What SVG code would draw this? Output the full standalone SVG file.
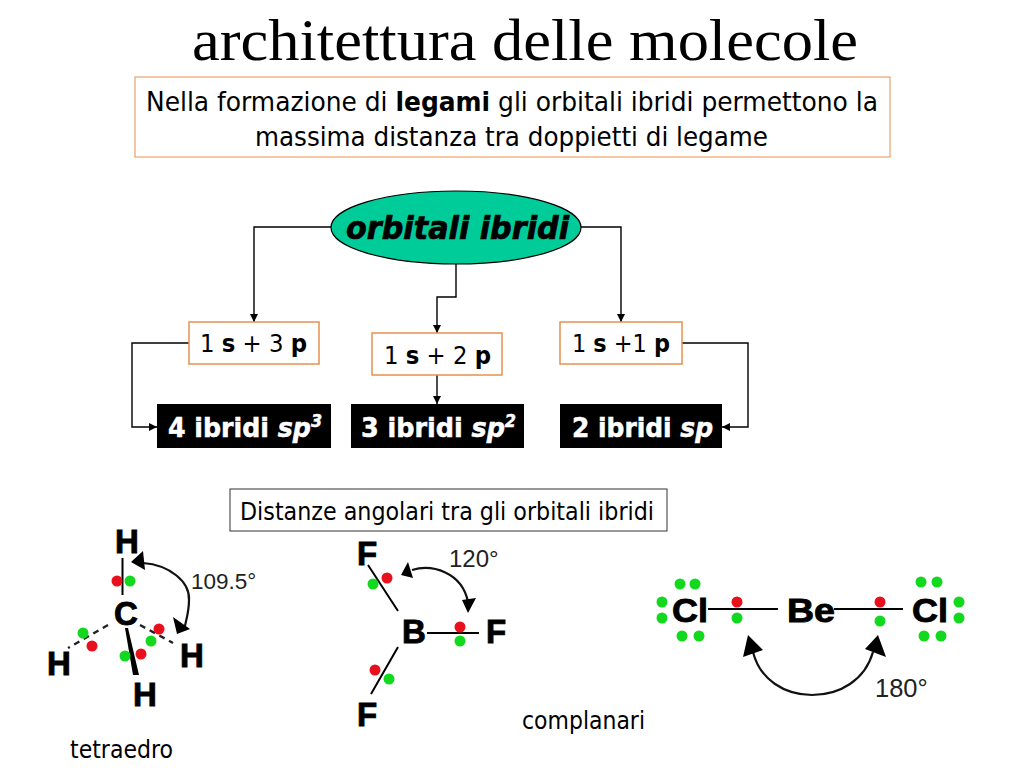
<svg xmlns="http://www.w3.org/2000/svg" width="1024" height="768" viewBox="0 0 1024 768">
<style>
text{font-family:"DejaVu Sans","Noto Sans",sans-serif;font-stretch:condensed;fill:#000}
.title{font-family:"Liberation Serif",serif;font-stretch:normal;font-size:60px}
.t{font-size:27px}
.lab{font-size:25px}
.blk{font-size:27px;font-weight:bold;fill:#fff;stroke:#fff;stroke-width:.5px}
.chem{font-family:"Liberation Sans",sans-serif;font-stretch:normal;font-weight:bold;font-size:33px;text-anchor:middle;stroke:#000;stroke-width:.9px}
.deg{font-family:"Liberation Sans",sans-serif;font-stretch:normal;fill:#222}
.box{fill:#fff;stroke:#e8904e;stroke-width:1.5}
.k{fill:#000;stroke:none}
.con{fill:none;stroke:#000;stroke-width:1.4}
.bond{stroke:#000;stroke-width:2;fill:none}
.dash{stroke:#222;stroke-width:2.4;fill:none;stroke-dasharray:6 5}
.arc{stroke:#111;stroke-width:2.2;fill:none}
.r{fill:#e8101c}.g{fill:#12d81e}
circle{r:5.5px}
</style>
<defs>
<marker id="ah" viewBox="0 0 10 10" refX="10" refY="5" markerWidth="8" markerHeight="8" markerUnits="userSpaceOnUse" orient="auto"><path d="M0 0L10 5L0 10Z" fill="#000"/></marker>
</defs>
<text class="title" x="192" y="60" textLength="666" lengthAdjust="spacingAndGlyphs">architettura delle molecole</text>
<g id="intro">
<rect class="box" x="135" y="77" width="755" height="80" style="stroke-width:1"/>
<text class="t" x="146" y="111" textLength="732" lengthAdjust="spacingAndGlyphs">Nella formazione di <tspan font-weight="bold">legami</tspan> gli orbitali ibridi permettono la</text>
<text class="t" x="255" y="146" textLength="513" lengthAdjust="spacingAndGlyphs">massima distanza tra doppietti di legame</text>
</g>
<g id="connectors">
<path class="con" d="M331 227H254V322" marker-end="url(#ah)"/>
<path class="con" d="M456 264V297H437V333" marker-end="url(#ah)"/>
<path class="con" d="M581 227H621V322" marker-end="url(#ah)"/>
<path class="con" d="M189 343H132V427H157" marker-end="url(#ah)"/>
<path class="con" d="M437 375V404" marker-end="url(#ah)"/>
<path class="con" d="M682 343H748V427H722" marker-end="url(#ah)"/>
</g>
<g id="orbitali">
<ellipse cx="456" cy="227.500" rx="125" ry="36.500" fill="#00cc99" stroke="#000" stroke-width="1.2"/>
<text x="346" y="239" font-size="32" font-weight="bold" font-style="italic" stroke="#000" stroke-width=".7" textLength="223" lengthAdjust="spacingAndGlyphs">orbitali ibridi</text>
</g>
<g id="s3p"><rect class="box" x="189" y="322" width="130" height="42"/>
<text class="lab" x="200" y="352" textLength="107" lengthAdjust="spacingAndGlyphs">1 <tspan font-weight="bold">s</tspan> + 3 <tspan font-weight="bold">p</tspan></text></g>
<g id="s2p"><rect class="box" x="372" y="333" width="130" height="42"/>
<text class="lab" x="384" y="364" textLength="107" lengthAdjust="spacingAndGlyphs">1 <tspan font-weight="bold">s</tspan> + 2 <tspan font-weight="bold">p</tspan></text></g>
<g id="s1p"><rect class="box" x="560" y="322" width="122" height="42"/>
<text class="lab" x="572" y="352" textLength="98" lengthAdjust="spacingAndGlyphs">1 <tspan font-weight="bold">s</tspan> +1 <tspan font-weight="bold">p</tspan></text></g>
<g id="sp3"><rect class="k" x="157" y="404" width="174" height="44"/>
<text class="blk" x="168" y="437" textLength="154" lengthAdjust="spacingAndGlyphs">4 ibridi <tspan font-style="italic">sp<tspan font-size="17" dy="-10">3</tspan></tspan></text></g>
<g id="sp2"><rect class="k" x="351" y="404" width="173" height="44"/>
<text class="blk" x="361" y="437" textLength="155" lengthAdjust="spacingAndGlyphs">3 ibridi <tspan font-style="italic">sp<tspan font-size="17" dy="-10">2</tspan></tspan></text></g>
<g id="sp"><rect class="k" x="560" y="404" width="162" height="44"/>
<text class="blk" x="572" y="437" textLength="141" lengthAdjust="spacingAndGlyphs">2 ibridi <tspan font-style="italic">sp</tspan></text></g>
<g id="distanze"><rect x="230" y="489" width="437" height="42" fill="#fff" stroke="#333" stroke-width="1"/>
<text x="240" y="520" font-size="25" textLength="414" lengthAdjust="spacingAndGlyphs">Distanze angolari tra gli orbitali ibridi</text></g>
<g id="ch4">
<text class="chem" x="127" y="553">H</text><text class="chem" x="126" y="625">C</text><text class="chem" x="59" y="675">H</text><text class="chem" x="192" y="667">H</text><text class="chem" x="145" y="706">H</text>
<path class="bond" d="M122.500 558V595"/>
<path class="dash" d="M108 625L68 648M140 625L173 643"/>
<path d="M125 628L128 628L139 675L133 675Z"/>
<g class="r"><circle cx="117" cy="581" r="5"/><circle cx="92" cy="646" r="5"/><circle cx="159" cy="629" r="5"/><circle cx="141" cy="654" r="5"/></g>
<g class="g"><circle cx="130" cy="581" r="5"/><circle cx="83" cy="633" r="5"/><circle cx="151" cy="641" r="5"/><circle cx="125" cy="656" r="5"/></g>
<path class="arc" d="M143 563C170 565 190 582 189 600C189 612 186 620 185 626"/>
<path d="M131 562L143 551L145 570Z M173 617L190 629L177 634Z"/>
<text class="deg" x="191" y="589" font-size="22.500">109.5°</text>
<text x="70" y="758" font-size="25" textLength="103" lengthAdjust="spacingAndGlyphs">tetraedro</text>
</g>
<g id="bf3">
<text class="chem" x="367" y="565">F</text><text class="chem" x="414" y="643">B</text><text class="chem" x="496" y="643">F</text><text class="chem" x="367" y="726">F</text>
<path class="bond" d="M368 565L398 611M398 647L371 694M427 633H479"/>
<g class="r"><circle cx="387" cy="578" r="5"/><circle cx="460" cy="627" r="5"/><circle cx="375" cy="670" r="5"/></g>
<g class="g"><circle cx="373" cy="584" r="5"/><circle cx="460" cy="641" r="5"/><circle cx="389" cy="679" r="5"/></g>
<path class="arc" d="M412 570C432 564 462 572 468 602"/>
<path d="M401 575L408 562L413 578Z M462 600L476 598L468 613Z"/>
<text class="deg" x="449" y="567" font-size="24">120°</text>
<text x="522" y="729" font-size="25" textLength="123" lengthAdjust="spacingAndGlyphs">complanari</text>
</g>
<g id="becl2">
<text class="chem" x="690" y="622" textLength="36" lengthAdjust="spacingAndGlyphs">Cl</text><text class="chem" x="811" y="622" textLength="48" lengthAdjust="spacingAndGlyphs">Be</text><text class="chem" x="930" y="622" textLength="36" lengthAdjust="spacingAndGlyphs">Cl</text>
<path class="bond" d="M708 609H778M834 609H903"/>
<g class="g"><circle cx="680" cy="584" r="5"/><circle cx="695" cy="584" r="5"/><circle cx="662" cy="602" r="5"/><circle cx="662" cy="618" r="5"/><circle cx="682" cy="636" r="5"/><circle cx="699" cy="636" r="5"/><circle cx="737" cy="618" r="5"/><circle cx="880" cy="621" r="5"/><circle cx="921" cy="582" r="5"/><circle cx="937" cy="582" r="5"/><circle cx="959" cy="602" r="5"/><circle cx="959" cy="618" r="5"/><circle cx="924" cy="636" r="5"/><circle cx="941" cy="636" r="5"/></g>
<g class="r"><circle cx="737" cy="602" r="5"/><circle cx="880" cy="602" r="5"/></g>
<path class="arc" d="M753 652C760 680 785 695 812 695C840 695 865 680 873 652"/>
<path d="M748 635L743 657L763 650Z M878 635L865 649L886 657Z"/>
<text class="deg" x="875" y="697" font-size="25.500">180°</text>
</g>
</svg>
